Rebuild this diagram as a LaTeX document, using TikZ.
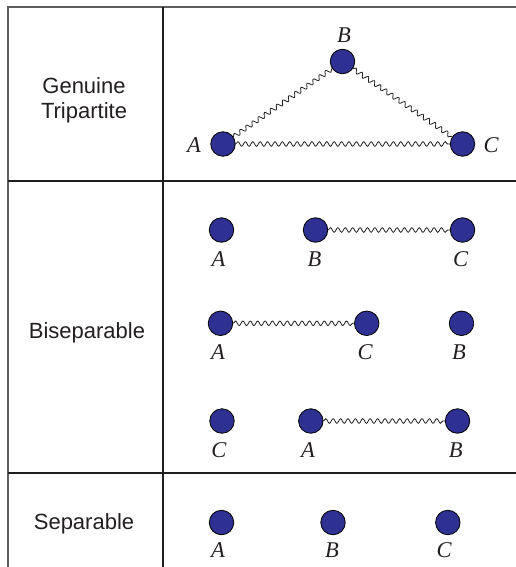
\documentclass[tikz,border=0pt]{standalone}
\usepackage{fontspec}
\setmainfont{Liberation Sans}
\newfontfamily\labfont{Liberation Serif}
\usetikzlibrary{decorations.pathmorphing}
\definecolor{ballblue}{RGB}{46,49,146}
\definecolor{frameline}{RGB}{95,95,95}
\definecolor{ruleline}{RGB}{30,30,30}
\definecolor{txt}{RGB}{35,31,32}
\begin{document}
\begin{tikzpicture}[x=1pt,y=-1pt,
  ball/.style={circle,draw=black,line width=0.8pt,fill=ballblue,minimum size=24.5pt,inner sep=0pt},
  lab/.style={font=\labfont\itshape\fontsize{22.5}{26}\selectfont,inner sep=0pt,text=txt},
  cat/.style={font=\fontsize{22}{25}\selectfont,align=center,inner sep=0pt,text=txt},
  bond/.style={decorate,decoration={snake,amplitude=2.3pt,segment length=7.4pt},line width=0.8pt,draw=txt},
  frame/.style={line width=1.2pt,draw=frameline},
  rule/.style={line width=2.6pt,draw=ruleline}
]
\useasboundingbox (0,0) rectangle (516,567);
% table lines
\draw[frame] (8,567) -- (8,7) -- (516,7);
\draw[rule] (163,7) -- (163,567);
\draw[rule] (8,181) -- (516,181);
\draw[rule] (8,473) -- (516,473);
% categories
\node[cat] (g) at (84,100) {Genuine\\Tripartite};
\node[cat] (bs) at (87,333) {Biseparable};
\node[cat] (sp) at (84,524) {Separable};
% row 1
\node[ball] (A1) at (223,144) {};
\node[ball] (B1) at (342.5,61.5) {};
\node[ball] (C1) at (462.5,144) {};
\node[lab] (lA1) at (194,145) {A};
\node[lab] (lB1) at (344,35.5) {B};
\node[lab] (lC1) at (491,145) {C};
\draw[bond] (A1) -- (B1);
\draw[bond] (B1) -- (C1);
\draw[bond] (A1) -- (C1);
% row 2
\node[ball] (A2) at (221.5,230) {};
\node[ball] (B2) at (315.5,230) {};
\node[ball] (C2) at (462.5,230) {};
\node[lab] (lA2) at (218.5,259.5) {A};
\node[lab] (lB2) at (314.5,259.5) {B};
\node[lab] (lC2) at (460.5,259.5) {C};
\draw[bond] (B2) -- (C2);
% row 3
\node[ball] (A3) at (220.5,323.3) {};
\node[ball] (C3) at (366.7,323.3) {};
\node[ball] (B3) at (461.5,323.3) {};
\node[lab] (lA3) at (218,352) {A};
\node[lab] (lC3) at (365,352) {C};
\node[lab] (lB3) at (459,352) {B};
\draw[bond] (A3) -- (C3);
% row 4
\node[ball] (C4) at (222,421) {};
\node[ball] (A4) at (310.8,421) {};
\node[ball] (B4) at (457.5,421) {};
\node[lab] (lC4) at (219,450) {C};
\node[lab] (lA4) at (308,450) {A};
\node[lab] (lB4) at (455.7,450) {B};
\draw[bond] (A4) -- (B4);
% row 5
\node[ball] (A5) at (221.5,522.5) {};
\node[ball] (B5) at (333,522.5) {};
\node[ball] (C5) at (447.8,522.5) {};
\node[lab] (lA5) at (218,550.5) {A};
\node[lab] (lB5) at (332,550.5) {B};
\node[lab] (lC5) at (444,550.5) {C};
\end{tikzpicture}
\end{document}
